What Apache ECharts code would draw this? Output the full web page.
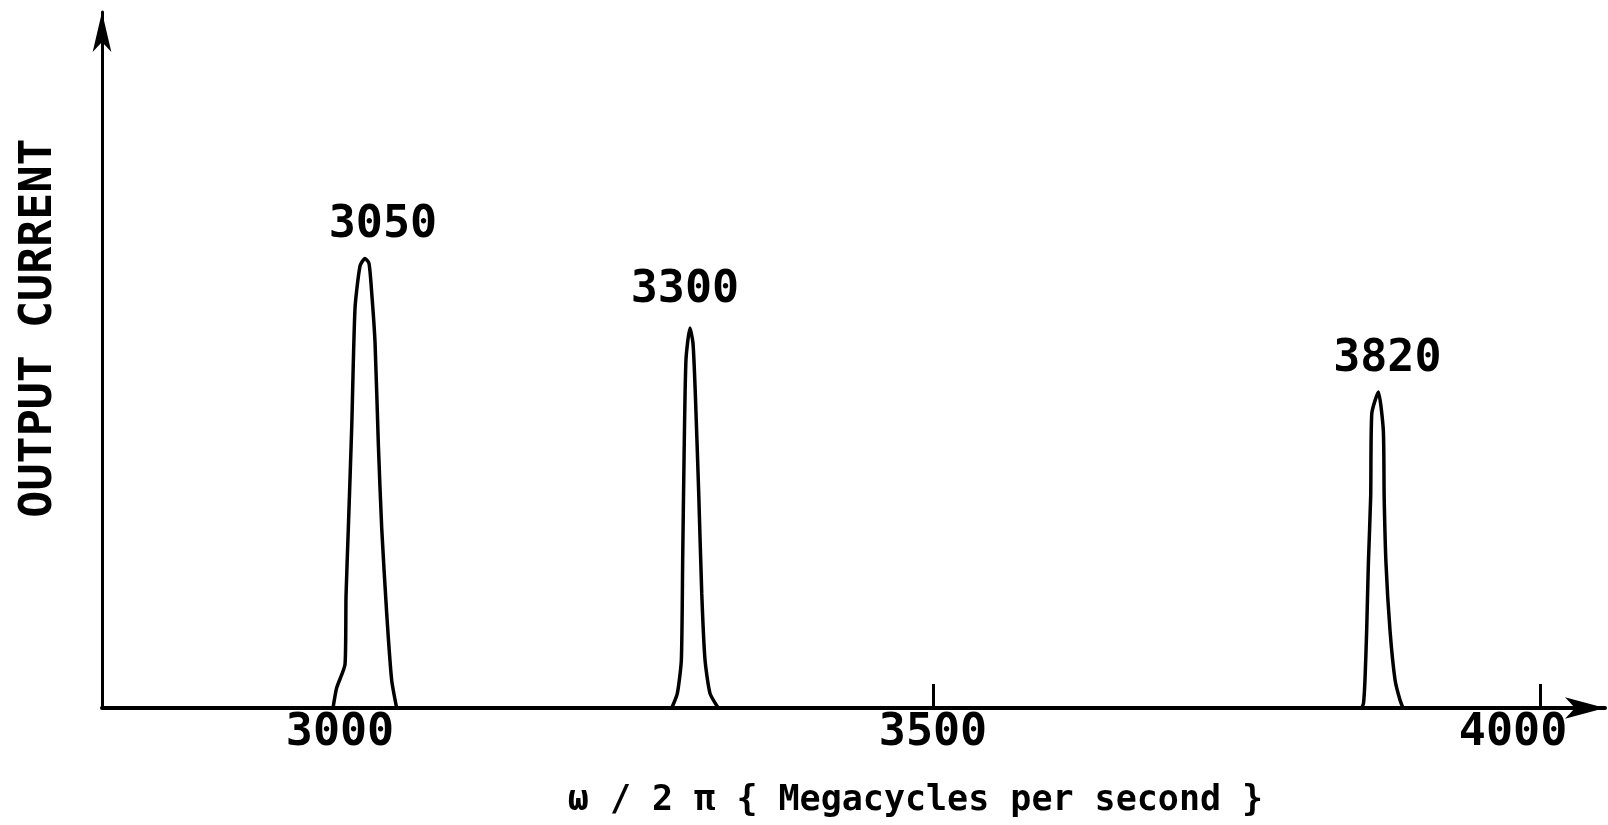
<!DOCTYPE html>
<html>
<head>
<meta charset="utf-8">
<script src="https://cdn.jsdelivr.net/npm/echarts@6/dist/echarts.min.js"></script>
<style>
	html, body { margin: 0; padding: 0; background: #fff; }
	#graph { width: 1608px; height: 825px; }
</style>
</head>
<body>
<div id="graph"></div>
<script>
// 横轴刻度
var tickLabels = [3000, 3500, 4000];
var tickMarks = [3500, 4000];
var peakLabels = ['3050', '3300', '3820'];

// 三个谐振峰 [频率, 输出电流]
var peak3050 = [
	[3005.8, 0], [3008.8, 2.9], [3015.7, 6.3], [3016.5, 16.1], [3018.4, 25.8],
	[3021.2, 40.4], [3023.9, 57.4], [3028.0, 63.5], [3032.1, 64.6], [3035.4, 63.9],
	[3037.6, 59.8], [3040.4, 52.5], [3043.1, 38.0], [3045.9, 25.8], [3050.0, 13.6],
	[3054.1, 4.0], [3058.2, 0]
];
var peak3300 = [
	[3284.8, 0], [3289.4, 2.1], [3292.7, 6.9], [3293.8, 21.3], [3294.9, 35.6],
	[3296.5, 50.0], [3299.8, 54.6], [3302.3, 52.4], [3304.2, 45.2], [3307.0, 30.9],
	[3309.5, 16.5], [3312.2, 6.9], [3316.3, 2.1], [3323.1, 0]
];
var peak3820 = [
	[3853.1, 0], [3854.6, 0.7], [3855.8, 4.0], [3857.2, 11.2], [3858.6, 20.8],
	[3860.5, 30.4], [3861.4, 42.3], [3866.8, 45.4], [3870.9, 39.9], [3871.6, 30.4],
	[3873.1, 20.8], [3876.4, 11.2], [3880.6, 4.0], [3884.7, 1.1], [3887.1, 0]
];

var peaks = [peak3050, peak3300, peak3820];
// 标注位置微调 [dx, 距峰顶高度]
var labelShift = [[18, 33], [-5, 37], [9, 32]];

var FONT = 'DejaVu Sans Mono';

var myChart = echarts.init(document.getElementById('graph'));

var series = [];
var tops = [];
for (var i = 0; i < peaks.length; i++) {
	var pts = peaks[i];
	var peakIdx = 0;
	for (var k = 1; k < pts.length; k++) {
		if (pts[k][1] > pts[peakIdx][1]) peakIdx = k;
	}
	tops.push({
		value: pts[peakIdx],
		label: {
			show: true,
			position: 'top',
			distance: labelShift[i][1] - 22,
			offset: [labelShift[i][0], 0],
			formatter: peakLabels[i],
			fontFamily: FONT,
			fontWeight: 'bold',
			fontSize: 45,
			lineHeight: 44,
			color: '#000',
			opacity: 1
		}
	});
	series.push({
		type: 'line',
		data: pts,
		symbol: 'none',
		smooth: 0.2,
		lineStyle: { color: '#000', width: 3.5 },
		animation: false
	});
}

// 峰值标注
series.push({
	type: 'scatter',
	data: tops,
	symbolSize: 1,
	itemStyle: { color: 'rgba(0,0,0,0)' },
	emphasis: { disabled: true },
	animation: false
});

var option = {
	backgroundColor: '#fff',
	grid: { left: 102, right: 3, top: 12, bottom: 117, containLabel: false, outerBoundsMode: 'none' },
	xAxis: {
		type: 'value',
		min: 2815.5,
		max: 4053.5,
		name: 'ω / 2 π { Megacycles per second }',
		nameLocation: 'middle',
		nameGap: 75,
		nameTextStyle: {
			fontFamily: FONT,
			fontWeight: 'bold',
			fontSize: 35,
			color: '#000',
			padding: [0, 0, 0, 124]
		},
		axisLine: {
			onZero: false,
			symbol: ['none', 'arrow'],
			symbolSize: [16, 40],
			lineStyle: { color: '#000', width: 4 }
		},
		axisTick: {
			show: true,
			inside: true,
			length: 24,
			customValues: tickMarks,
			lineStyle: { color: '#000', width: 3 }
		},
		axisLabel: {
			customValues: tickLabels,
			margin: 3,
			fontFamily: FONT,
			fontWeight: 'bold',
			fontSize: 45,
			lineHeight: 44,
			color: '#000',
			formatter: function (v) {
				if (v === 3000) return '{a|' + v + '}';
				if (v === 4000) return '{b|' + v + '}';
				return '' + v;
			},
			rich: {
				a: { fontFamily: FONT, fontWeight: 'bold', fontSize: 45, color: '#000', padding: [0, 0, 0, 28] },
				b: { fontFamily: FONT, fontWeight: 'bold', fontSize: 45, color: '#000', padding: [0, 54, 0, 0] }
			}
		},
		splitLine: { show: false }
	},
	yAxis: {
		type: 'value',
		min: 0,
		max: 100,
		name: 'OUTPUT CURRENT',
		nameLocation: 'middle',
		nameRotate: 90,
		nameGap: 40,
		nameTextStyle: {
			fontFamily: FONT,
			fontWeight: 'bold',
			fontSize: 45,
			color: '#000',
			padding: [0, 0, 0, 64]
		},
		axisLine: {
			show: true,
			symbol: ['none', 'arrow'],
			symbolSize: [14, 40],
			lineStyle: { color: '#000', width: 3 }
		},
		axisTick: { show: false },
		axisLabel: { show: false },
		splitLine: { show: false }
	},
	series: series
};

myChart.setOption(option);
</script>
</body>
</html>
